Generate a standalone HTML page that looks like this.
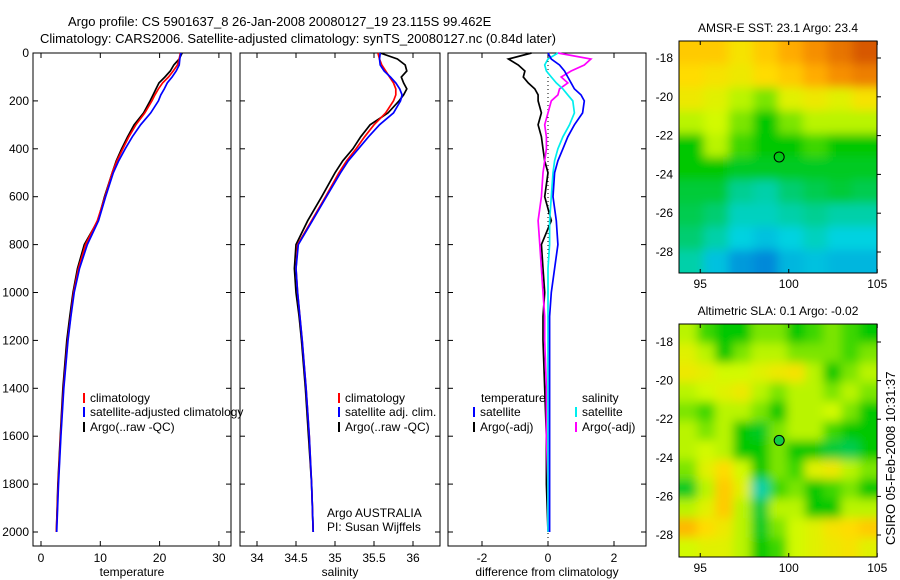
<!DOCTYPE html>
<html><head><meta charset="utf-8"><style>
body{margin:0;background:#fff;}
svg{display:block;font-family:"Liberation Sans",sans-serif;}
text{font-size:12px;fill:#000;}
</style></head><body>
<svg id="chart" width="900" height="580" viewBox="0 0 900 580" xmlns="http://www.w3.org/2000/svg">
<defs>
<filter id="blur" x="-10%" y="-10%" width="120%" height="120%"><feGaussianBlur stdDeviation="5"/></filter>
<clipPath id="clip1"><rect x="679" y="41" width="198" height="232"/></clipPath>
<clipPath id="clip2"><rect x="679" y="324" width="198" height="233"/></clipPath>
</defs>
<text x="68" y="26" style="font-size:13px">Argo profile: CS 5901637_8 26-Jan-2008 20080127_19 23.115S 99.462E</text>
<text x="40" y="43" style="font-size:13px">Climatology: CARS2006. Satellite-adjusted climatology: synTS_20080127.nc (0.84d later)</text>
<g id="g"></g>
<text transform="translate(895,545) rotate(-90)" style="font-size:13px">CSIRO 05-Feb-2008 10:31:37</text>
</svg>
<script>
const depths=[0,25,50,75,100,125,150,175,200,250,300,350,400,450,500,600,700,800,900,1000,1100,1200,1400,1600,1800,2000];
const tempClim=[23.5,23.3,23,22.3,21.5,20.5,19.8,19.2,18.7,17.5,16,14.8,13.8,12.8,12,10.8,9.5,7.5,6.3,5.5,5,4.5,3.8,3.3,2.9,2.6];
const tempSat=[23.6,23.4,23.3,22.8,22.1,21.3,20.8,20.2,19.8,18.5,16.8,15.4,14.2,13.1,12.2,10.9,9.7,7.8,6.5,5.6,5.05,4.55,3.85,3.35,2.95,2.65];
const tempArgo=[23.8,23.3,22.4,21.8,20.9,19.9,19.4,18.9,18.4,17.3,15.7,14.6,13.6,12.7,12,10.7,9.6,7.3,6.15,5.4,4.85,4.35,3.7,3.25,2.85,2.6];
const salClim=[35.55,35.57,35.6,35.65,35.7,35.75,35.78,35.78,35.75,35.65,35.5,35.38,35.27,35.15,35.05,34.88,34.7,34.52,34.5,34.52,34.55,34.58,34.63,34.67,34.7,34.72];
const salSat=[35.58,35.57,35.58,35.63,35.71,35.78,35.83,35.86,35.84,35.75,35.57,35.43,35.3,35.17,35.07,34.89,34.71,34.53,34.5,34.52,34.55,34.58,34.63,34.67,34.7,34.72];
const salArgo=[35.58,35.8,35.9,35.92,35.85,35.88,35.92,35.88,35.82,35.68,35.45,35.33,35.23,35.1,35.0,34.83,34.65,34.5,34.48,34.5,34.54,34.57,34.62,34.66,34.7,34.72];
const dTempSat=[0,0.1,0.35,0.5,0.6,0.7,0.8,1.0,1.1,1.05,0.8,0.6,0.45,0.3,0.2,0.15,0.25,0.3,0.2,0.1,0.05,0.05,0.05,0.05,0.05,0.05];
const dTempArgo=[-0.5,-1.2,-0.9,-0.7,-0.75,-0.6,-0.4,-0.3,-0.3,-0.2,-0.3,-0.2,-0.15,-0.1,0,-0.1,0.1,-0.2,-0.15,-0.1,-0.15,-0.15,-0.1,-0.05,-0.05,0];
const dSalSat=[0.3,0,-0.1,-0.05,0.1,0.25,0.45,0.6,0.75,0.8,0.65,0.45,0.3,0.2,0.15,0.1,0.05,0.05,0,0,0,0,0,0,0,0];
const dSalArgo=[0.3,1.3,1.1,0.7,0.4,0.6,0.35,0.3,0.1,0.0,-0.1,-0.05,-0.05,-0.1,-0.15,-0.2,-0.3,-0.25,-0.2,-0.15,-0.1,-0.1,-0.05,-0.05,0,0];
const depthTicks=[0,200,400,600,800,1000,1200,1400,1600,1800,2000];
const tempTicks=[0,10,20,30];
const salTicks=[34,34.5,35,35.5,36];
const diffTicks=[-2,0,2];
const sstGrid=[
[.75,.75,.7,.75,.8,.85,.9,.95],
[.72,.7,.68,.72,.75,.8,.85,.88],
[.68,.65,.6,.55,.65,.68,.65,.7],
[.6,.62,.55,.45,.55,.6,.6,.6],
[.45,.6,.5,.45,.45,.5,.45,.45],
[.45,.45,.42,.42,.42,.42,.42,.42],
[.4,.4,.32,.3,.35,.38,.4,.38],
[.38,.35,.28,.28,.3,.32,.3,.3],
[.35,.3,.25,.22,.25,.28,.25,.25],
[.3,.22,.15,.12,.2,.22,.2,.2]];
const slaGrid=[
[.6,.5,.45,.45,.55,.55,.45,.5,.55,.5,.45],
[.65,.6,.45,.55,.6,.6,.55,.55,.55,.5,.55],
[.68,.66,.62,.62,.65,.68,.7,.6,.45,.55,.6],
[.6,.62,.65,.68,.6,.55,.6,.6,.55,.6,.55],
[.55,.5,.6,.6,.55,.45,.6,.6,.62,.55,.45],
[.6,.55,.6,.45,.42,.55,.6,.6,.5,.45,.45],
[.6,.62,.6,.45,.45,.55,.45,.45,.4,.38,.45],
[.55,.65,.72,.62,.45,.55,.5,.65,.68,.6,.55],
[.42,.6,.75,.65,.3,.5,.55,.45,.5,.55,.45],
[.6,.65,.75,.6,.4,.6,.6,.45,.45,.6,.6],
[.78,.72,.68,.6,.42,.55,.62,.65,.7,.72,.75],
[.62,.65,.65,.6,.45,.5,.62,.65,.68,.7,.65]];
const lonTicks=[95,100,105];
const latTicks=[-18,-20,-22,-24,-26,-28];

const NS='http://www.w3.org/2000/svg';
const G=document.getElementById('g');
function mk(t,a,p){const e=document.createElementNS(NS,t);for(const k in a)e.setAttribute(k,a[k]);(p||G).appendChild(e);return e;}
const yD=d=>53+d*0.2395;
function txt(x,y,s,anchor,name){const t=mk('text',{x:x,y:y,'text-anchor':anchor||'start'});t.textContent=s;

return t;}
function panel(x0,x1,xs,ticks,label,name,showY){
 const r=mk('rect',{x:x0,y:53,width:x1-x0,height:493,fill:'none',stroke:'#000'});
 
 
 ticks.forEach(v=>{const x=xs(v);mk('line',{x1:x,x2:x,y1:546,y2:541,stroke:'#000'});mk('line',{x1:x,x2:x,y1:53,y2:58,stroke:'#000'});
  txt(x,562,String(v),'middle',name+'-x-tick');});
 depthTicks.forEach(d=>{const y=yD(d);mk('line',{x1:x0,x2:x0+5,y1:y,y2:y,stroke:'#000'});mk('line',{x1:x1,x2:x1-5,y1:y,y2:y,stroke:'#000'});
  if(showY)txt(x0-4,y+4,String(d),'end','depth-tick');});
 txt((x0+x1)/2,576,label,'middle',name+'-x-title');
}
function line(xs,vals,color,name,w){const pts=depths.map((d,i)=>xs(vals[i]).toFixed(1)+','+yD(d).toFixed(1)).join(' ');
 const p=mk('polyline',{points:pts,fill:'none',stroke:color,'stroke-width':w||1.7});
 
 }
const xT=v=>41+v*5.93, xS=v=>296+(v-34.5)*78, xDf=v=>548+v*33;
panel(33,231,xT,tempTicks,'temperature','temperature-panel',true);
panel(240,440,xS,salTicks,'salinity','salinity-panel',false);
panel(448,646,xDf,diffTicks,'difference from climatology','difference-panel',false);
line(xT,tempArgo,'#000','temp-argo-line');line(xT,tempClim,'#f00','temp-climatology-line');line(xT,tempSat,'#00f','temp-satellite-line');
line(xS,salArgo,'#000','sal-argo-line');line(xS,salClim,'#f00','sal-climatology-line');line(xS,salSat,'#00f','sal-satellite-line');
mk('line',{x1:548,x2:548,y1:53,y2:546,stroke:'#000','stroke-dasharray':'1,3'});
line(xDf,dTempArgo,'#000','diff-temp-argo-line');line(xDf,dSalArgo,'#f0f','diff-sal-argo-line');
line(xDf,dSalSat,'#0ee','diff-sal-satellite-line');line(xDf,dTempSat,'#00f','diff-temp-satellite-line');
function leg(x,y,color,label,name){mk('line',{x1:x,x2:x,y1:y-9,y2:y+1,stroke:color,'stroke-width':2});txt(x+6,y,label,'start',name);}
leg(84,402,'#f00','climatology','legend-climatology');leg(84,416,'#00f','satellite-adjusted climatology','legend-satellite');leg(84,431,'#000','Argo(..raw -QC)','legend-argo');
leg(339,402,'#f00','climatology','legend-sal-climatology');leg(339,416,'#00f','satellite adj. clim.','legend-sal-satellite');leg(339,431,'#000','Argo(..raw -QC)','legend-sal-argo');
txt(481,402,'temperature','start','legend-temperature-header');txt(582,402,'salinity','start','legend-salinity-header');
leg(474,416,'#00f','satellite','legend-diff-temp-sat');leg(474,431,'#000','Argo(-adj)','legend-diff-temp-argo');
leg(576,416,'#0ee','satellite','legend-diff-sal-sat');leg(576,431,'#f0f','Argo(-adj)','legend-diff-sal-argo');
txt(327,517,'Argo AUSTRALIA','start','float-info');txt(327,531,'PI: Susan Wijffels','start','pi-info');
function cmap(v){const st=[[0,[0,70,210]],[.25,[0,210,225]],[.45,[0,200,0]],[.62,[210,250,0]],[.72,[255,220,0]],[.82,[255,160,0]],[1,[200,60,0]]];
 for(let i=1;i<st.length;i++){if(v<=st[i][0]){const a=st[i-1],b=st[i],t=(v-a[0])/(b[0]-a[0]);return 'rgb('+a[1].map((c,k)=>Math.round(c+(b[1][k]-c)*t)).join(',')+')';}}return 'rgb(200,60,0)';}
function map(grid,x0,y0,w,h,latA,latB,title,name,pt,ptFill,clip){
 const rows=grid.length,cols=grid[0].length,cw=w/cols,ch=h/rows;
 const outer=mk('g',{'clip-path':'url(#'+clip+')'});
 const gg=mk('g',{filter:'url(#blur)'},outer);
 const E=15;
 grid.forEach((row,i)=>row.forEach((v,j)=>{
  let x=x0+j*cw,y=y0+i*ch,ww=cw+.6,hh=ch+.6;
  if(j===0){x-=E;ww+=E;} if(j===cols-1)ww+=E;
  if(i===0){y-=E;hh+=E;} if(i===rows-1)hh+=E;
  mk('rect',{x:x.toFixed(1),y:y.toFixed(1),width:ww.toFixed(1),height:hh.toFixed(1),fill:cmap(v)},gg);}));
 const fr=mk('rect',{x:x0,y:y0,width:w,height:h,fill:'none',stroke:'#000'});
 const xs=l=>x0+(l-93.8)*17.7, ys=l=>latA+(-18-l)*(latB-latA)/10;
 lonTicks.forEach(l=>{const x=xs(l);mk('line',{x1:x,x2:x,y1:y0,y2:y0+4,stroke:'#000'});mk('line',{x1:x,x2:x,y1:y0+h,y2:y0+h-4,stroke:'#000'});txt(x,y0+h+15,String(l),'middle',name+'-lon-tick');});
 latTicks.forEach(l=>{const y=ys(l);mk('line',{x1:x0+w,x2:x0+w+4,y1:y,y2:y,stroke:'#000'});txt(x0-6,y+4,String(l),'end',name+'-lat-tick');});
 txt(x0+w/2,y0-9,title,'middle',name+'-title');
 const c=mk('circle',{cx:xs(pt[0]),cy:ys(pt[1]),r:5,fill:ptFill,stroke:'#000'});
}
map(sstGrid,679,41,198,232,58,252,'AMSR-E SST: 23.1  Argo: 23.4','sst-map',[99.46,-23.1],'none','clip1');
map(slaGrid,679,324,198,233,342,535,'Altimetric SLA: 0.1  Argo: -0.02','sla-map',[99.46,-23.1],'#1c4','clip2');
</script>
</body></html>
